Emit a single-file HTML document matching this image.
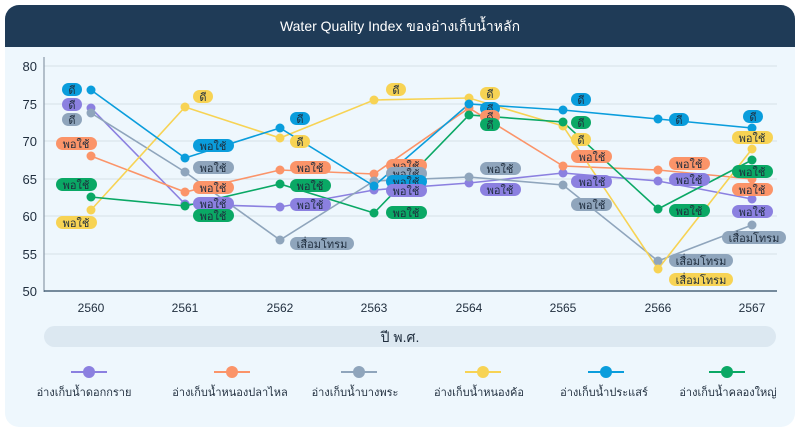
<!DOCTYPE html>
<html><head><meta charset="utf-8"><style>
html,body{margin:0;padding:0;background:#fff;}
svg{display:block;font-family:"Liberation Sans","Noto Sans CJK SC",sans-serif;}
</style></head><body>
<svg width="800" height="431" viewBox="0 0 800 431" xmlns="http://www.w3.org/2000/svg">
<defs><clipPath id="c"><rect x="5" y="5" width="790" height="422" rx="14"/></clipPath></defs>
<g clip-path="url(#c)">
<rect x="5" y="5" width="790" height="422" fill="#eef7fd"/>
<rect x="5" y="5" width="790" height="42" fill="#1f3b57"/>
</g>
<text x="400" y="31" fill="#fff" font-size="14" text-anchor="middle">Water Quality Index ของอ่างเก็บน้ำหลัก</text>
<g stroke="#d6e0e8" stroke-width="1">
<line x1="44" y1="66" x2="777" y2="66"/><line x1="44" y1="104" x2="777" y2="104"/>
<line x1="44" y1="141" x2="777" y2="141"/><line x1="44" y1="179" x2="777" y2="179"/>
<line x1="44" y1="216" x2="777" y2="216"/><line x1="44" y1="254" x2="777" y2="254"/>
</g>
<line x1="44" y1="57" x2="44" y2="292" stroke="#8a9aa8" stroke-width="1.2"/>
<line x1="44" y1="291" x2="777" y2="291" stroke="#2d4a63" stroke-width="1.2"/>
<g font-size="13" fill="#1f2d3d" text-anchor="end">
<text x="37" y="71">80</text><text x="37" y="109">75</text><text x="37" y="146">70</text>
<text x="37" y="184">65</text><text x="37" y="221">60</text><text x="37" y="259">55</text><text x="37" y="296">50</text>
</g>
<g font-size="12" fill="#1f2d3d" text-anchor="middle">
<text x="91" y="312">2560</text><text x="185" y="312">2561</text><text x="280" y="312">2562</text><text x="374" y="312">2563</text>
<text x="469" y="312">2564</text><text x="563" y="312">2565</text><text x="658" y="312">2566</text><text x="752" y="312">2567</text>
</g>
<rect x="44" y="326" width="732" height="21" rx="10.5" fill="#dce8f1"/>
<text x="400" y="342" font-size="14" fill="#1f2d3d" text-anchor="middle">ปี พ.ศ.</text>
<g fill="none" stroke-width="1.6">
<polyline stroke="#8b80e0" points="91,108 185,204 280,207 374,190 469,183 563,173 658,181 752,199"/>
<polyline stroke="#fb9469" points="91,156 185,192 280,170 374,174 469,108 563,166 658,170 752,179"/>
<polyline stroke="#8fa5bc" points="91,113 185,172 280,240 374,181 469,177 563,185 658,261 752,225"/>
<polyline stroke="#f7d354" points="91,210 185,107 280,138 374,100 469,98 563,126 658,269 752,149"/>
<polyline stroke="#0a9ddc" points="91,90 185,158 280,128 374,186 469,104 563,110 658,119 752,128"/>
<polyline stroke="#0aa865" points="91,197 185,206 280,184 374,213 469,115 563,122 658,209 752,160"/>
</g>
<g fill="#8b80e0"><circle cx="91" cy="108" r="4.5"/><circle cx="185" cy="204" r="4.5"/><circle cx="280" cy="207" r="4.5"/><circle cx="374" cy="190" r="4.5"/><circle cx="469" cy="183" r="4.5"/><circle cx="563" cy="173" r="4.5"/><circle cx="658" cy="181" r="4.5"/><circle cx="752" cy="199" r="4.5"/></g>
<g fill="#fb9469"><circle cx="91" cy="156" r="4.5"/><circle cx="185" cy="192" r="4.5"/><circle cx="280" cy="170" r="4.5"/><circle cx="374" cy="174" r="4.5"/><circle cx="469" cy="108" r="4.5"/><circle cx="563" cy="166" r="4.5"/><circle cx="658" cy="170" r="4.5"/><circle cx="752" cy="179" r="4.5"/></g>
<g fill="#8fa5bc"><circle cx="91" cy="113" r="4.5"/><circle cx="185" cy="172" r="4.5"/><circle cx="280" cy="240" r="4.5"/><circle cx="374" cy="181" r="4.5"/><circle cx="469" cy="177" r="4.5"/><circle cx="563" cy="185" r="4.5"/><circle cx="658" cy="261" r="4.5"/><circle cx="752" cy="225" r="4.5"/></g>
<g fill="#f7d354"><circle cx="91" cy="210" r="4.5"/><circle cx="185" cy="107" r="4.5"/><circle cx="280" cy="138" r="4.5"/><circle cx="374" cy="100" r="4.5"/><circle cx="469" cy="98" r="4.5"/><circle cx="563" cy="126" r="4.5"/><circle cx="658" cy="269" r="4.5"/><circle cx="752" cy="149" r="4.5"/></g>
<g fill="#0a9ddc"><circle cx="91" cy="90" r="4.5"/><circle cx="185" cy="158" r="4.5"/><circle cx="280" cy="128" r="4.5"/><circle cx="374" cy="186" r="4.5"/><circle cx="469" cy="104" r="4.5"/><circle cx="563" cy="110" r="4.5"/><circle cx="658" cy="119" r="4.5"/><circle cx="752" cy="128" r="4.5"/></g>
<g fill="#0aa865"><circle cx="91" cy="197" r="4.5"/><circle cx="185" cy="206" r="4.5"/><circle cx="280" cy="184" r="4.5"/><circle cx="374" cy="213" r="4.5"/><circle cx="469" cy="115" r="4.5"/><circle cx="563" cy="122" r="4.5"/><circle cx="658" cy="209" r="4.5"/><circle cx="752" cy="160" r="4.5"/></g>
<g font-size="11" fill="#1f2d3d" text-anchor="middle">
<rect x="62" y="83" width="20" height="13" rx="6.5" fill="#0a9ddc"/><text x="72" y="94">ดี</text>
<rect x="62" y="98" width="20" height="13" rx="6.5" fill="#8b80e0"/><text x="72" y="109">ดี</text>
<rect x="62" y="113" width="20" height="13" rx="6.5" fill="#8fa5bc"/><text x="72" y="124">ดี</text>
<rect x="56" y="137" width="41" height="13" rx="6.5" fill="#fb9469"/><text x="76" y="148">พอใช้</text>
<rect x="56" y="178" width="41" height="13" rx="6.5" fill="#0aa865"/><text x="76" y="189">พอใช้</text>
<rect x="56" y="216" width="41" height="13" rx="6.5" fill="#f7d354"/><text x="76" y="227">พอใช้</text>
<rect x="193" y="90" width="20" height="13" rx="6.5" fill="#f7d354"/><text x="203" y="101">ดี</text>
<rect x="193" y="139" width="41" height="13" rx="6.5" fill="#0a9ddc"/><text x="213" y="150">พอใช้</text>
<rect x="193" y="161" width="41" height="13" rx="6.5" fill="#8fa5bc"/><text x="213" y="172">พอใช้</text>
<rect x="193" y="181" width="41" height="13" rx="6.5" fill="#fb9469"/><text x="213" y="192">พอใช้</text>
<rect x="193" y="197" width="41" height="13" rx="6.5" fill="#8b80e0"/><text x="213" y="208">พอใช้</text>
<rect x="193" y="209" width="41" height="13" rx="6.5" fill="#0aa865"/><text x="213" y="220">พอใช้</text>
<rect x="290" y="112" width="20" height="13" rx="6.5" fill="#0a9ddc"/><text x="300" y="123">ดี</text>
<rect x="290" y="135" width="20" height="13" rx="6.5" fill="#f7d354"/><text x="300" y="146">ดี</text>
<rect x="290" y="161" width="41" height="13" rx="6.5" fill="#fb9469"/><text x="310" y="172">พอใช้</text>
<rect x="290" y="179" width="41" height="13" rx="6.5" fill="#0aa865"/><text x="310" y="190">พอใช้</text>
<rect x="290" y="198" width="41" height="13" rx="6.5" fill="#8b80e0"/><text x="310" y="209">พอใช้</text>
<rect x="290" y="237" width="64" height="13" rx="6.5" fill="#8fa5bc"/><text x="322" y="248">เสื่อมโทรม</text>
<rect x="386" y="83" width="20" height="13" rx="6.5" fill="#f7d354"/><text x="396" y="94">ดี</text>
<rect x="386" y="159" width="41" height="13" rx="6.5" fill="#fb9469"/><text x="406" y="170">พอใช้</text>
<rect x="386" y="167" width="41" height="13" rx="6.5" fill="#8fa5bc"/><text x="406" y="178">พอใช้</text>
<rect x="386" y="175" width="41" height="13" rx="6.5" fill="#0a9ddc"/><text x="406" y="186">พอใช้</text>
<rect x="386" y="184" width="41" height="13" rx="6.5" fill="#8b80e0"/><text x="406" y="195">พอใช้</text>
<rect x="386" y="206" width="41" height="13" rx="6.5" fill="#0aa865"/><text x="406" y="217">พอใช้</text>
<rect x="480" y="87" width="20" height="13" rx="6.5" fill="#f7d354"/><text x="490" y="98">ดี</text>
<rect x="480" y="102" width="20" height="13" rx="6.5" fill="#0a9ddc"/><text x="490" y="113">ดี</text>
<rect x="480" y="110" width="20" height="13" rx="6.5" fill="#fb9469"/><text x="490" y="121">ดี</text>
<rect x="480" y="118" width="20" height="13" rx="6.5" fill="#0aa865"/><text x="490" y="129">ดี</text>
<rect x="480" y="162" width="41" height="13" rx="6.5" fill="#8fa5bc"/><text x="500" y="173">พอใช้</text>
<rect x="480" y="183" width="41" height="13" rx="6.5" fill="#8b80e0"/><text x="500" y="194">พอใช้</text>
<rect x="571" y="93" width="20" height="13" rx="6.5" fill="#0a9ddc"/><text x="581" y="104">ดี</text>
<rect x="571" y="116" width="20" height="13" rx="6.5" fill="#0aa865"/><text x="581" y="127">ดี</text>
<rect x="571" y="133" width="20" height="13" rx="6.5" fill="#f7d354"/><text x="581" y="144">ดี</text>
<rect x="571" y="150" width="41" height="13" rx="6.5" fill="#fb9469"/><text x="592" y="161">พอใช้</text>
<rect x="571" y="175" width="41" height="13" rx="6.5" fill="#8b80e0"/><text x="592" y="186">พอใช้</text>
<rect x="571" y="198" width="41" height="13" rx="6.5" fill="#8fa5bc"/><text x="592" y="209">พอใช้</text>
<rect x="669" y="113" width="20" height="13" rx="6.5" fill="#0a9ddc"/><text x="679" y="124">ดี</text>
<rect x="669" y="157" width="41" height="13" rx="6.5" fill="#fb9469"/><text x="689" y="168">พอใช้</text>
<rect x="669" y="173" width="41" height="13" rx="6.5" fill="#8b80e0"/><text x="689" y="184">พอใช้</text>
<rect x="669" y="204" width="41" height="13" rx="6.5" fill="#0aa865"/><text x="689" y="215">พอใช้</text>
<rect x="669" y="254" width="64" height="13" rx="6.5" fill="#8fa5bc"/><text x="701" y="265">เสื่อมโทรม</text>
<rect x="669" y="273" width="64" height="13" rx="6.5" fill="#f7d354"/><text x="701" y="284">เสื่อมโทรม</text>
<rect x="743" y="110" width="20" height="13" rx="6.5" fill="#0a9ddc"/><text x="753" y="121">ดี</text>
<rect x="732" y="131" width="41" height="13" rx="6.5" fill="#f7d354"/><text x="752" y="142">พอใช้</text>
<rect x="732" y="165" width="41" height="13" rx="6.5" fill="#0aa865"/><text x="752" y="176">พอใช้</text>
<rect x="732" y="183" width="41" height="13" rx="6.5" fill="#fb9469"/><text x="752" y="194">พอใช้</text>
<rect x="732" y="205" width="41" height="13" rx="6.5" fill="#8b80e0"/><text x="752" y="216">พอใช้</text>
<rect x="722" y="231" width="64" height="13" rx="6.5" fill="#8fa5bc"/><text x="754" y="242">เสื่อมโทรม</text>
</g>
<g stroke-width="2">
<line x1="71" y1="372" x2="107" y2="372" stroke="#8b80e0"/><line x1="214" y1="372" x2="250" y2="372" stroke="#fb9469"/>
<line x1="341" y1="372" x2="377" y2="372" stroke="#8fa5bc"/><line x1="465" y1="372" x2="501" y2="372" stroke="#f7d354"/>
<line x1="588" y1="372" x2="624" y2="372" stroke="#0a9ddc"/><line x1="709" y1="372" x2="745" y2="372" stroke="#0aa865"/>
</g>
<circle cx="89" cy="372" r="6" fill="#8b80e0"/><circle cx="232" cy="372" r="6" fill="#fb9469"/>
<circle cx="359" cy="372" r="6" fill="#8fa5bc"/><circle cx="483" cy="372" r="6" fill="#f7d354"/>
<circle cx="606" cy="372" r="6" fill="#0a9ddc"/><circle cx="727" cy="372" r="6" fill="#0aa865"/>
<g font-size="11" fill="#1f2d3d" text-anchor="middle">
<text x="84" y="396">อ่างเก็บน้ำดอกกราย</text><text x="230" y="396">อ่างเก็บน้ำหนองปลาไหล</text>
<text x="355" y="396">อ่างเก็บน้ำบางพระ</text><text x="479" y="396">อ่างเก็บน้ำหนองค้อ</text>
<text x="604" y="396">อ่างเก็บน้ำประแสร์</text><text x="728" y="396">อ่างเก็บน้ำคลองใหญ่</text>
</g>
</svg>
</body></html>
